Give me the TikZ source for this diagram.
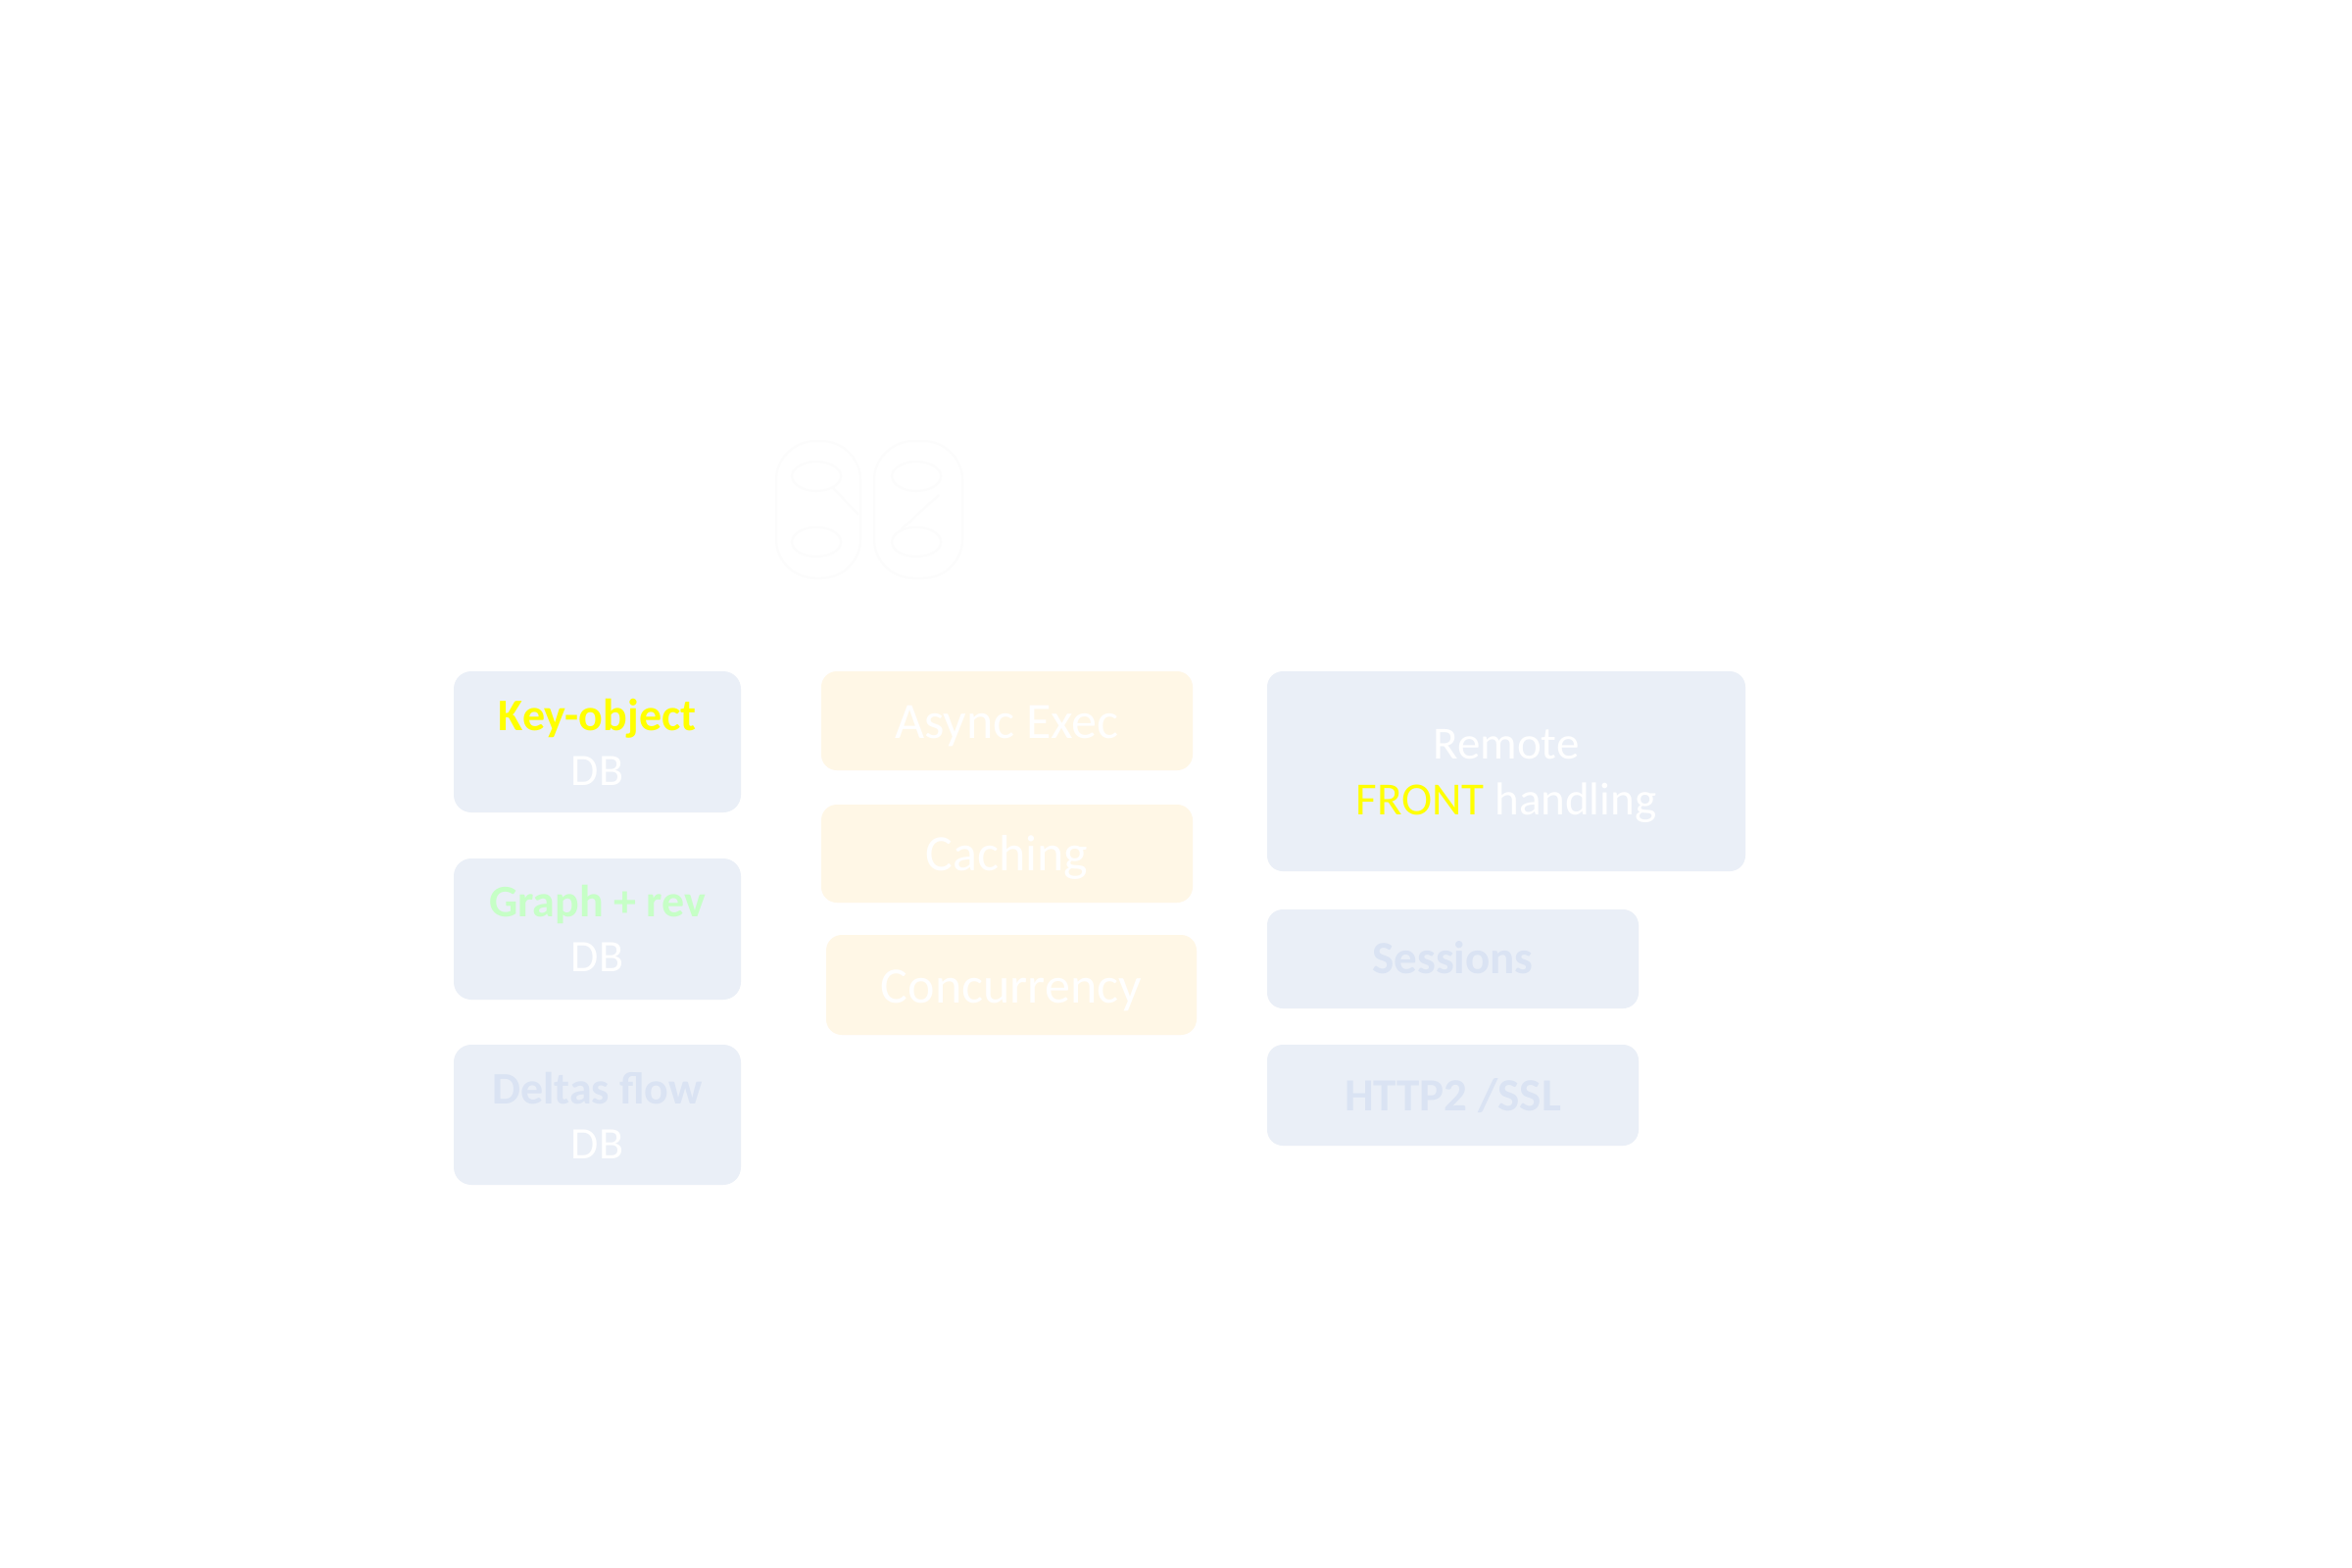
\documentclass[tikz,border=0pt]{standalone}
\usepackage{fontspec}
\setmainfont{Carlito}
\definecolor{boxblue}{HTML}{EAEFF7}
\definecolor{txtblue}{HTML}{DAE3F3}
\definecolor{boxcream}{HTML}{FFF7E6}
\definecolor{kyellow}{HTML}{FFFF00}
\definecolor{kgreen}{HTML}{C6FFC6}
\definecolor{logofaint}{HTML}{FCFCFC}
\begin{document}
\begin{tikzpicture}[x=1pt,y=-1pt,
  bluebox/.style={fill=boxblue,draw=none,rounded corners=18pt,inner sep=0pt},
  creambox/.style={fill=boxcream,draw=none,rounded corners=16pt,inner sep=0pt},
  lbl/.style={anchor=base,inner sep=0pt},
  fleft/.style={font=\fontsize{46}{55}\selectfont},
  fleftb/.style={font=\fontsize{46}{55}\selectfont\bfseries},
  fmid/.style={font=\fontsize{52}{62}\selectfont},
  fright/.style={font=\fontsize{47}{56}\selectfont},
  frightb/.style={font=\fontsize{47}{56}\selectfont\bfseries},
  logoline/.style={draw=logofaint,line width=2pt}]
\useasboundingbox (0,0) rectangle (2400,1600);
\fill[white] (0,0) rectangle (2400,1600);

% faint logo
\draw[logoline,rounded corners=40pt] (792,450) rectangle (878,590);
\draw[logoline,rounded corners=40pt] (892,450) rectangle (982,590);
\draw[logoline] (833,486) ellipse (25pt and 15pt);
\draw[logoline] (833,553) ellipse (25pt and 15pt);
\draw[logoline] (935,486) ellipse (25pt and 15pt);
\draw[logoline] (935,553) ellipse (25pt and 15pt);
\draw[logoline] (850,498) -- (876,525);
\draw[logoline] (920,540) -- (958,505);

% left column
\node[bluebox,minimum width=293pt,minimum height=144pt] (ko) at (609.5,757) {};
\node[bluebox,minimum width=293pt,minimum height=144pt] (gr) at (609.5,948) {};
\node[bluebox,minimum width=293pt,minimum height=143pt] (de) at (609.5,1137.5) {};
\node[lbl,fleftb,text=kyellow] (kot) at (609.5,745) {Key-object};
\node[lbl,fleft,text=white] (kodb) at (609.5,801) {DB};
\node[lbl,fleftb,text=kgreen] (grt) at (609.5,935) {Graph + rev};
\node[lbl,fleft,text=white] (grdb) at (609.5,991) {DB};
\node[lbl,fleftb,text=txtblue] (det) at (609.5,1126) {Deltas flow};
\node[lbl,fleft,text=white] (dedb) at (609.5,1182) {DB};

% middle column
\node[creambox,minimum width=379pt,minimum height=101pt] (as) at (1027.5,735.5) {};
\node[creambox,minimum width=379pt,minimum height=100pt] (ca) at (1027.5,871) {};
\node[creambox,minimum width=378pt,minimum height=102pt] (co) at (1032,1005) {};
\node[lbl,fmid,text=white] (ast) at (1027.5,753) {Async Exec};
\node[lbl,fmid,text=white] (cat) at (1027.5,888) {Caching};
\node[lbl,fmid,text=white] (cot) at (1032,1023) {Concurrency};

% right column
\node[bluebox,rounded corners=16pt,minimum width=488pt,minimum height=204pt] (re) at (1537,787) {};
\node[bluebox,rounded corners=16pt,minimum width=379pt,minimum height=101pt] (se) at (1482.5,978.5) {};
\node[bluebox,rounded corners=16pt,minimum width=379pt,minimum height=103pt] (ht) at (1482.5,1117.5) {};
\node[lbl,fright,text=white] (ret1) at (1537,774) {Remote};
\node[lbl,fright,text=white] (ret2) at (1537,831) {\textcolor{kyellow}{FRONT} handling};
\node[lbl,frightb,text=txtblue] (set) at (1482.5,993) {Sessions};
\node[lbl,frightb,text=txtblue] (htt) at (1482.5,1133) {HTTP2 /SSL};
\end{tikzpicture}
\end{document}
